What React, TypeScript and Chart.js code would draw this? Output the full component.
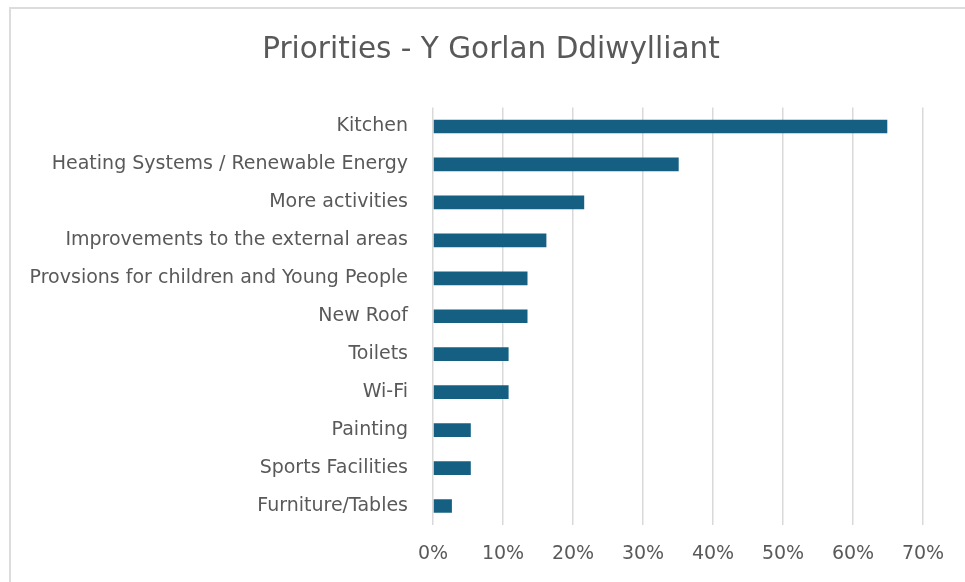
import React, { useEffect, useRef } from "react";
import { Chart, registerables } from "chart.js";

Chart.register(...registerables);

const categories = [
  "Kitchen",
  "Heating Systems / Renewable Energy",
  "More activities",
  "Improvements to the external areas",
  "Provsions for children and Young People",
  "New Roof",
  "Toilets",
  "Wi-Fi",
  "Painting",
  "Sports Facilities",
  "Furniture/Tables",
];

const values = [64.9, 35.1, 21.6, 16.2, 13.5, 13.5, 10.8, 10.8, 5.4, 5.4, 2.7];

const xTicks = [0, 10, 20, 30, 40, 50, 60, 70];

const titleText = "Priorities - Y Gorlan Ddiwylliant";

const FONT = "'DejaVu Sans', sans-serif";
const TEXT = "#595959";

const titlePlugin = {
  id: "centeredTitle",
  afterDraw(chart: any) {
    const ctx = chart.ctx;
    ctx.save();
    ctx.font = `29.5px ${FONT}`;
    ctx.fillStyle = TEXT;
    ctx.textAlign = "center";
    ctx.textBaseline = "middle";
    ctx.fillText(titleText, 491, 50);
    ctx.restore();
  },
};

export default function App() {
  const ref = useRef<HTMLCanvasElement | null>(null);

  useEffect(() => {
    document.body.style.margin = "0";
    const ctx = ref.current!.getContext("2d")!;
    const chart = new Chart(ctx, {
      type: "bar",
      data: {
        labels: categories,
        datasets: [
          {
            data: values,
            backgroundColor: "#156082",
            barPercentage: 0.72,
            categoryPercentage: 0.5,
          },
        ],
      },
      plugins: [titlePlugin],
      options: {
        indexAxis: "y",
        animation: false,
        responsive: false,
        maintainAspectRatio: false,
        layout: { padding: { left: 0, right: 42, top: 107.5, bottom: 0 } },
        plugins: {
          legend: { display: false },
          tooltip: { enabled: false },
          title: { display: false },
        },
        scales: {
          x: {
            type: "linear",
            min: 0,
            max: 70,
            afterBuildTicks: (axis: any) => {
              axis.ticks = xTicks.map((v) => ({ value: v }));
            },
            afterFit: (axis: any) => {
              axis.height = 57;
            },
            grid: { color: "#d9d9d9", lineWidth: 1.5, drawTicks: false },
            border: { display: false },
            ticks: {
              color: TEXT,
              padding: 18,
              font: { family: FONT, size: 19 },
              callback: (v: any) => v + "%",
            },
          },
          y: {
            afterFit: (axis: any) => {
              axis.width = 433;
            },
            grid: { display: false, drawTicks: false },
            border: { display: false },
            ticks: {
              color: TEXT,
              padding: 25,
              font: { family: FONT, size: 19 },
              autoSkip: false,
            },
          },
        },
      },
    });
    return () => chart.destroy();
  }, []);

  return (
    <div style={{ position: "relative", width: 965, height: 582, overflow: "hidden", background: "#fff" }}>
      <div
        style={{
          position: "absolute",
          left: 9,
          top: 7,
          width: 1000,
          height: 1000,
          border: "2px solid #dcdcdc",
          boxSizing: "border-box",
        }}
      />
      <canvas ref={ref} width={965} height={582} style={{ position: "absolute", left: 0, top: 0 }} />
    </div>
  );
}
